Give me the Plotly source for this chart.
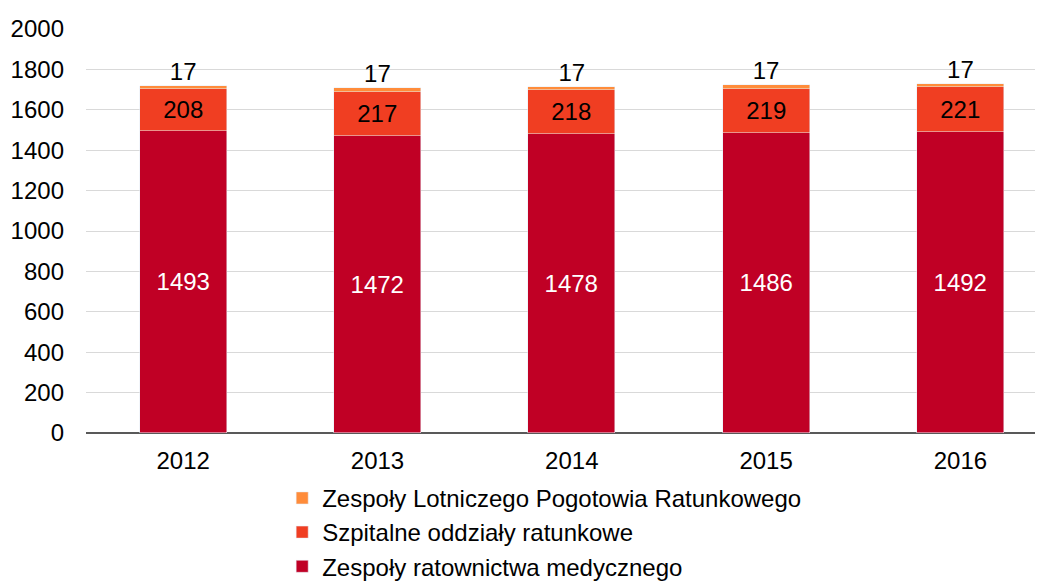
import plotly.graph_objects as go

years = ["2012", "2013", "2014", "2015", "2016"]
zrm = [1493, 1472, 1478, 1486, 1492]
sor = [208, 217, 218, 219, 221]
lpr = [17, 17, 17, 17, 17]
names = ["Zespoły ratownictwa medycznego", "Szpitalne oddziały ratunkowe",
         "Zespoły Lotniczego Pogotowia Ratunkowego"]
colors = ["#C00025", "#F03E22", "#FF8C3A"]

font = "Liberation Sans, Arial, sans-serif"
fig = go.Figure()
fig.add_bar(x=years, y=zrm, name=names[0], marker_color=colors[0], width=0.447,
            text=[str(v) for v in zrm], textposition="inside", insidetextanchor="middle",
            textfont=dict(color="white", size=24, family=font))
fig.add_bar(x=years, y=sor, name=names[1], marker_color=colors[1], width=0.447,
            text=[str(v) for v in sor], textposition="inside", insidetextanchor="middle",
            textfont=dict(color="black", size=24, family=font))
fig.add_bar(x=years, y=lpr, name=names[2], marker_color=colors[2], width=0.447,
            textposition="none")

totals = [a + b + c for a, b, c in zip(zrm, sor, lpr)]
fig.add_scatter(x=years, y=totals, mode="text", text=[str(v) for v in lpr],
                textposition="top center", showlegend=False, hoverinfo="skip",
                textfont=dict(size=24, color="black", family=font))

# the page body has an 8px margin, so the figure is sized/offset to compensate
fig.update_layout(
    barmode="stack", width=1035, height=575,
    margin=dict(l=78, r=0, t=21, b=150, autoexpand=False),
    plot_bgcolor="white", paper_bgcolor="white",
    font=dict(family=font, size=24, color="black"),
    bargap=0,
    legend=dict(orientation="v", traceorder="reversed", x=0.205, xanchor="left",
                y=-0.106, yanchor="top", font=dict(size=24), itemwidth=30,
                tracegroupgap=0),
    showlegend=True,
)
fig.update_xaxes(type="category", range=[-0.5, 4.425], showgrid=False, ticks="",
                 showline=False, automargin=False, ticklabelstandoff=11,
                 tickfont=dict(size=24))
fig.update_yaxes(range=[0, 2000], dtick=200, showgrid=True, gridcolor="#D9D9D9",
                 gridwidth=1, zeroline=True, zerolinecolor="#595959", zerolinewidth=1.5,
                 ticks="", ticklabelstandoff=21, automargin=False, tickfont=dict(size=24))
fig.write_html("out.html")
